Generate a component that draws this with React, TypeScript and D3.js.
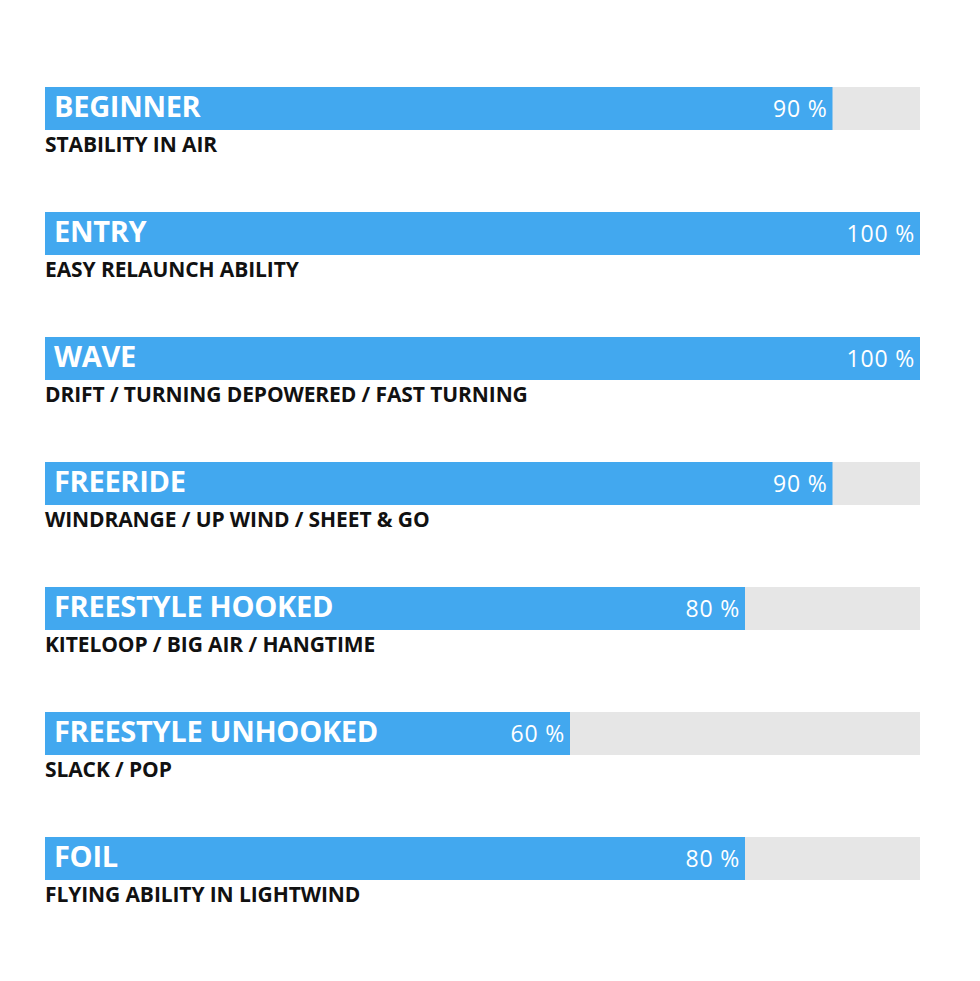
import React from "react";
import * as d3 from "d3";

const categories = ["BEGINNER", "ENTRY", "WAVE", "FREERIDE", "FREESTYLE HOOKED", "FREESTYLE UNHOOKED", "FOIL"];
const subtitles = [
  "STABILITY IN AIR",
  "EASY RELAUNCH ABILITY",
  "DRIFT / TURNING DEPOWERED / FAST TURNING",
  "WINDRANGE / UP WIND / SHEET & GO",
  "KITELOOP / BIG AIR / HANGTIME",
  "SLACK / POP",
  "FLYING ABILITY IN LIGHTWIND",
];
const values = [90, 100, 100, 90, 80, 60, 80];

const W = 980;
const H = 981;

export default function App() {
  const x = d3.scaleLinear().domain([0, 100]).range([45, 920]);
  const y = d3.scaleBand<number>().domain(d3.range(categories.length)).range([87, 87 + 125 * 7]).paddingInner(0);
  const barH = 43;
  const font = "'Open Sans', 'DejaVu Sans', sans-serif";
  return (
    <svg width={W} height={H} style={{ position: "absolute", left: 0, top: 0, background: "#fff" }}>
      {categories.map((c, i) => {
        const y0 = y(i)!;
        return (
          <g key={c}>
            <rect x={x(0)} y={y0} width={x(100) - x(0)} height={barH} fill="#e6e6e6" />
            <rect x={x(0)} y={y0} width={x(values[i]) - x(0)} height={barH} fill="#42a8ef" />
            <text x={54} y={y0 + 30} fill="#fff" fontFamily={font} fontWeight={700} fontSize={29} letterSpacing={-0.3}>
              {c}
            </text>
            <text x={x(values[i]) - 5} y={y0 + 30} fill="#fff" fontFamily={font} fontWeight={500} fontSize={23} letterSpacing={0.8} textAnchor="end">
              {values[i] + " %"}
            </text>
            <text x={45} y={y0 + 65} fill="#111" fontFamily={font} fontWeight={700} fontSize={21} letterSpacing={-0.1}>
              {subtitles[i]}
            </text>
          </g>
        );
      })}
    </svg>
  );
}
